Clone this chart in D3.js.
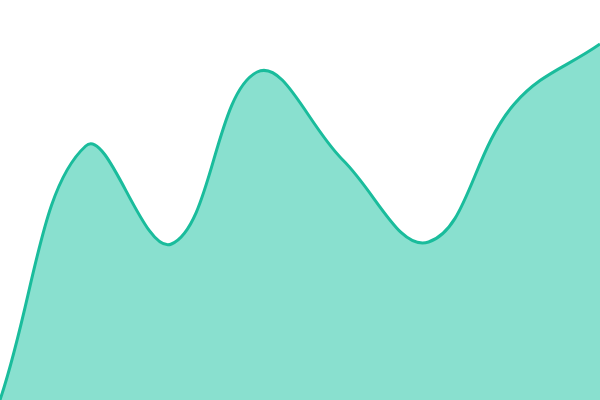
<!DOCTYPE html>
<html>
<head>
<meta charset="utf-8">
<script src="https://cdn.jsdelivr.net/npm/d3@7"></script>
<style>
  html, body { margin: 0; padding: 0; background: #fff; }
  svg { display: block; }
  .area { fill: #89e0cf; }
  .line { fill: none; stroke: #1abc9c; stroke-width: 3; stroke-linejoin: round; }
</style>
</head>
<body>
<div id="chart"></div>
<script>
  // data
  var points = [0, 1, 2, 3, 4, 5, 6, 7];
  var values = [0, 63.5, 39, 82, 60, 39.5, 74, 89];

  var width = 600,
      height = 400,
      tension = 0.4;

  // spline that weights each control point by the distance to its neighbours
  function SplineCurve(context) { this._context = context; }
  SplineCurve.prototype = {
    areaStart: function () { this._line = 0; },
    areaEnd: function () { this._line = NaN; },
    lineStart: function () { this._pts = []; },
    point: function (px, py) { this._pts.push([+px, +py]); },
    lineEnd: function () {
      var p = this._pts, n = p.length, c = this._context, cps = [], i;
      for (i = 0; i < n; i++) {
        var prev = p[i - 1] || p[i], cur = p[i], next = p[i + 1] || p[i];
        var d01 = Math.hypot(cur[0] - prev[0], cur[1] - prev[1]),
            d12 = Math.hypot(next[0] - cur[0], next[1] - cur[1]),
            s01 = d01 / (d01 + d12) || 0,
            s12 = d12 / (d01 + d12) || 0,
            fa = tension * s01,
            fb = tension * s12;
        cps.push({
          x1: cur[0] - fa * (next[0] - prev[0]), y1: cur[1] - fa * (next[1] - prev[1]),
          x2: cur[0] + fb * (next[0] - prev[0]), y2: cur[1] + fb * (next[1] - prev[1])
        });
      }
      if (n) {
        if (this._line) c.lineTo(p[0][0], p[0][1]);
        else c.moveTo(p[0][0], p[0][1]);
        for (i = 1; i < n; i++) {
          c.bezierCurveTo(cps[i - 1].x2, cps[i - 1].y2, cps[i].x1, cps[i].y1, p[i][0], p[i][1]);
        }
      }
      if (this._line || (this._line !== 0 && n === 1)) c.closePath();
      this._line = 1 - this._line;
    }
  };
  function curveSpline(context) { return new SplineCurve(context); }

  var x = d3.scaleLinear().domain([0, points.length - 1]).range([0, width]);
  var y = d3.scaleLinear().domain([0, 100]).range([height, 0]);

  var data = points.map(function (p, i) { return { x: p, v: values[i] }; });

  var svg = d3.select('#chart')
    .append('svg')
    .attr('width', width)
    .attr('height', height);

  var area = d3.area()
    .curve(curveSpline)
    .x(function (d) { return x(d.x); })
    .y0(height)
    .y1(function (d) { return y(d.v); });

  var line = d3.line()
    .curve(curveSpline)
    .x(function (d) { return x(d.x); })
    .y(function (d) { return y(d.v); });

  svg.append('path').datum(data).attr('class', 'area').attr('d', area);
  svg.append('path').datum(data).attr('class', 'line').attr('d', line);
</script>
</body>
</html>
